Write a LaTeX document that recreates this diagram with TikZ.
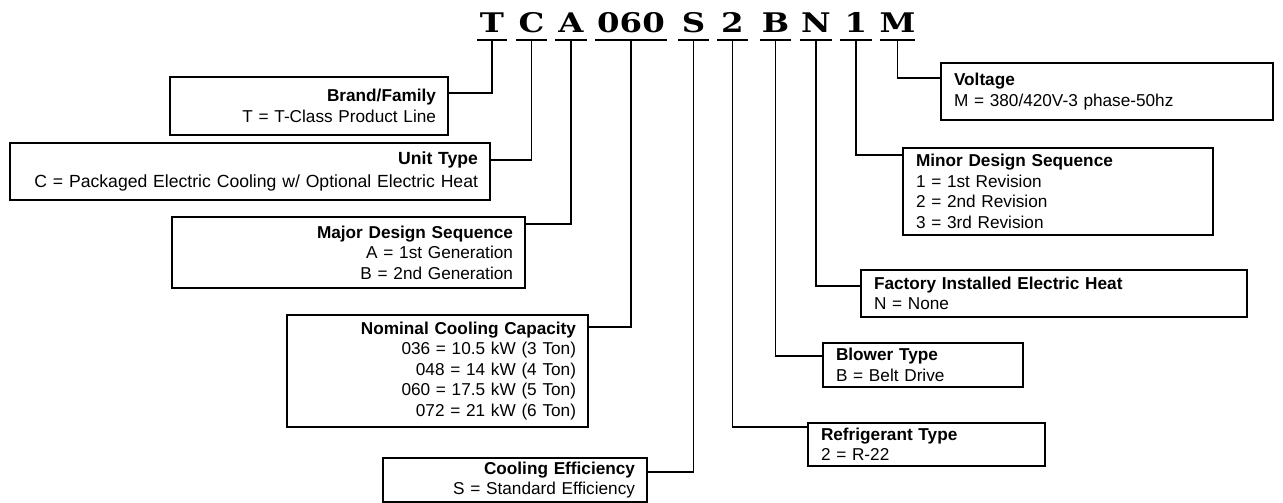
\documentclass[tikz,border=0pt]{standalone}
\usepackage{fontspec}
\setmainfont{Liberation Sans}
\newfontfamily\codefont{DejaVu Serif}
\usepackage{graphicx}
\tikzset{
  codech/.style={font=\codefont\bfseries\fontsize{27}{27}\selectfont, inner xsep=0pt, inner ysep=7pt, anchor=base, outer sep=0pt},
  uline/.style={line width=2pt},
  conn/.style={line width=1.6pt},
  infobox/.style={draw, line width=1.2pt, inner xsep=12pt, inner ysep=0pt, outer sep=0pt, anchor=north west, font=\fontsize{17.2}{20.5}\selectfont},
  lbox/.style={infobox, align=right},
  rbox/.style={infobox, align=left},
}
\newcommand{\cw}[1]{\scalebox{1.2}[1]{#1}}
\begin{document}
\begin{tikzpicture}[x=1pt,y=-1pt]
\useasboundingbox (0,0) rectangle (1283,503);
% code characters
\node[codech, minimum width=30pt] (cT) at (492,33) {\cw{T}};
\node[codech, minimum width=31pt] (cC) at (531.5,33) {\cw{C}};
\node[codech, minimum width=32pt] (cA) at (571,33) {\cw{A}};
\node[codech, minimum width=72pt] (cN0) at (631,33) {\cw{060}};
\node[codech, minimum width=31pt] (cS) at (693.5,33) {\cw{S}};
\node[codech, minimum width=31pt] (c2) at (732.5,33) {\cw{2}};
\node[codech, minimum width=31pt] (cB) at (775.5,33) {\cw{B}};
\node[codech, minimum width=32pt] (cN) at (816,33) {\cw{N}};
\node[codech, minimum width=32pt] (c1) at (856,33) {\cw{1}};
\node[codech, minimum width=31pt] (cM) at (897.5,33) {\cw{M}};
\foreach \n in {cT,cC,cA,cN0,cS,c2,cB,cN,c1,cM}
  \draw[uline] (\n.south west) -- (\n.south east);
% boxes
\node[lbox, text width=254pt, minimum height=58pt] (brand) at (170,77) {\textbf{Brand/Family}\\T = T-Class Product Line};
\node[lbox, text width=456pt, minimum height=57pt, font=\fontsize{17.6}{23}\selectfont] (unit) at (10,143) {\textbf{Unit Type}\\C = Packaged Electric Cooling w/ Optional Electric Heat};
\node[lbox, text width=329pt, minimum height=71pt] (major) at (172,217) {\textbf{Major Design Sequence}\\A = 1st Generation\\B = 2nd Generation};
\node[lbox, text width=277pt, minimum height=112pt] (nominal) at (287,315) {\textbf{Nominal Cooling Capacity}\\036 = 10.5 kW (3 Ton)\\048 = 14 kW (4 Ton)\\060 = 17.5 kW (5 Ton)\\072 = 21 kW (6 Ton)};
\node[lbox, text width=240pt, minimum height=44pt] (coolef) at (383,458) {\textbf{Cooling Efficiency}\\S = Standard Efficiency};
\node[rbox, text width=211pt, minimum height=43pt, inner xsep=13pt] (refrig) at (808,423) {\textbf{Refrigerant Type}\\2 = R-22};
\node[rbox, text width=174pt, minimum height=44pt, inner xsep=13pt] (blower) at (823,343) {\textbf{Blower Type}\\B = Belt Drive};
\node[rbox, text width=360pt, minimum height=47pt, inner xsep=13pt] (factory) at (861,270) {\textbf{Factory Installed Electric Heat}\\N = None};
\node[rbox, text width=284pt, minimum height=87pt, inner xsep=13pt] (minor) at (903,148) {\textbf{Minor Design Sequence}\\1 = 1st Revision\\2 = 2nd Revision\\3 = 3rd Revision};
\node[rbox, text width=306pt, minimum height=57pt, inner xsep=13pt] (voltage) at (941,63) {\textbf{Voltage}\\M = 380/420V-3 phase-50hz};
% connector levels
\coordinate (yT) at (0,93);
\coordinate (yC) at (0,160);
\coordinate (yA) at (0,224);
\coordinate (yN0) at (0,327);
\coordinate (yS) at (0,472);
\coordinate (y2) at (0,427);
\coordinate (yB) at (0,356);
\coordinate (yN) at (0,286);
\coordinate (y1) at (0,155);
\coordinate (yM) at (0,78);
% connectors
\draw[conn] (cT.south) |- (brand.east |- yT);
\draw[conn] (cC.south) |- (unit.east |- yC);
\draw[conn] (cA.south) |- (major.east |- yA);
\draw[conn] (cN0.south) |- (nominal.east |- yN0);
\draw[conn] (cS.south) |- (coolef.east |- yS);
\draw[conn] (c2.south) |- (refrig.west |- y2);
\draw[conn] (cB.south) |- (blower.west |- yB);
\draw[conn] (cN.south) |- (factory.west |- yN);
\draw[conn] (c1.south) |- (minor.west |- y1);
\draw[conn] (cM.south) |- (voltage.west |- yM);
\end{tikzpicture}
\end{document}
